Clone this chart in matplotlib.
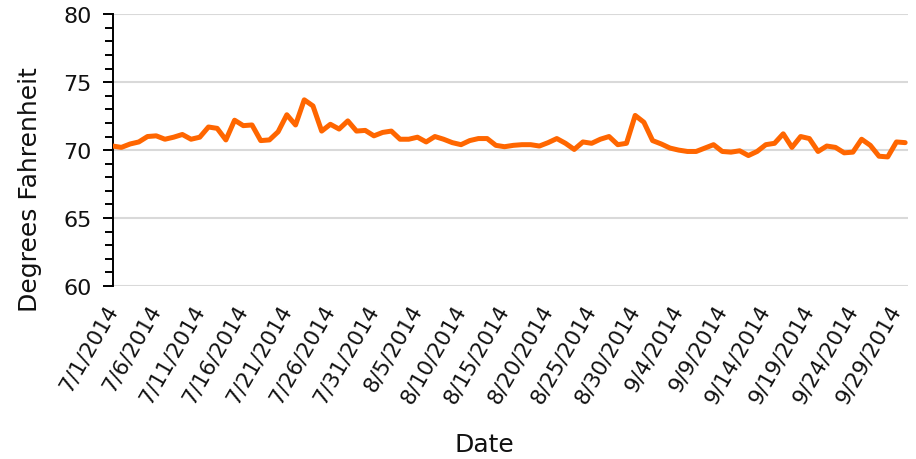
import numpy as np
import pandas as pd
import matplotlib
matplotlib.use('Agg')
import matplotlib.pyplot as plt
import matplotlib.transforms as mtransforms
from matplotlib.ticker import MultipleLocator

# daily average temperature, 7/1/2014 .. 9/30/2014
dates = pd.date_range('2014-07-01', '2014-09-30', freq='D')
temps = [
    70.3, 70.2, 70.45, 70.6, 71.0, 71.05, 70.8, 70.95, 71.15, 70.8,
    70.95, 71.7, 71.6, 70.75, 72.2, 71.8, 71.85, 70.7, 70.75, 71.35,
    72.6, 71.85, 73.7, 73.25, 71.4, 71.9, 71.55, 72.15, 71.4, 71.45,
    71.05, 71.3, 71.4, 70.8, 70.8, 70.95, 70.6, 71.0, 70.8, 70.55,
    70.4, 70.7, 70.85, 70.85, 70.35, 70.25, 70.35, 70.4, 70.4, 70.3,
    70.55, 70.85, 70.5, 70.05, 70.6, 70.5, 70.8, 71.0, 70.4, 70.5,
    72.55, 72.05, 70.7, 70.45, 70.15, 70.0, 69.9, 69.9, 70.15, 70.4,
    69.9, 69.85, 69.95, 69.6, 69.9, 70.4, 70.5, 71.2, 70.2, 71.0,
    70.85, 69.9, 70.3, 70.2, 69.8, 69.85, 70.8, 70.35, 69.55, 69.5,
    70.6, 70.55,
]
tick_dates = dates[::5]
tick_labels = ['{}/{}/{}'.format(d.month, d.day, d.year) for d in tick_dates]

plt.rcParams['font.family'] = ['DejaVu Sans']

fig = plt.figure(figsize=(9.16, 4.6), dpi=100)
ax = fig.add_axes([0.123, 0.376, 0.868, 0.591])

x = np.arange(len(dates))
ax.plot(x, temps, color='#FF6600', linewidth=3.6, solid_joinstyle='round',
        solid_capstyle='round', zorder=3)

ax.set_ylim(60, 80)
ax.set_xlim(0, len(dates) - 1 + 0.3)
ax.yaxis.set_major_locator(MultipleLocator(5))
ax.yaxis.set_minor_locator(MultipleLocator(1))
ax.grid(axis='y', which='major', color='#D9D9D9', linewidth=1.5, zorder=0)

ax.set_xticks(x[::5])
ax.set_xticklabels(tick_labels, rotation=60, ha='right', va='center',
                   rotation_mode='anchor', fontsize=15.5, color='#111111')
shift = mtransforms.ScaledTranslation(5 / 100, 0, fig.dpi_scale_trans)
for lbl in ax.get_xticklabels():
    lbl.set_transform(lbl.get_transform() + shift)
ax.tick_params(axis='x', length=0, pad=14)
ax.tick_params(axis='y', which='major', length=7, width=1.4, labelsize=16,
               direction='out', color='black', pad=8, labelcolor='#111111')
ax.tick_params(axis='y', which='minor', length=6, width=1.4,
               direction='out', color='black')

for side in ['top', 'right', 'bottom']:
    ax.spines[side].set_visible(False)
ax.spines['left'].set_color('black')
ax.spines['left'].set_linewidth(1.4)

ax.set_ylabel('Degrees Fahrenheit', fontsize=18, color='#111111', va='center')
ax.yaxis.set_label_coords(-0.104, 0.357)
ax.set_xlabel('Date', fontsize=18, color='#111111', va='center')
ax.xaxis.set_label_coords(0.468, -0.58)

fig.savefig('out.png', dpi=100)
